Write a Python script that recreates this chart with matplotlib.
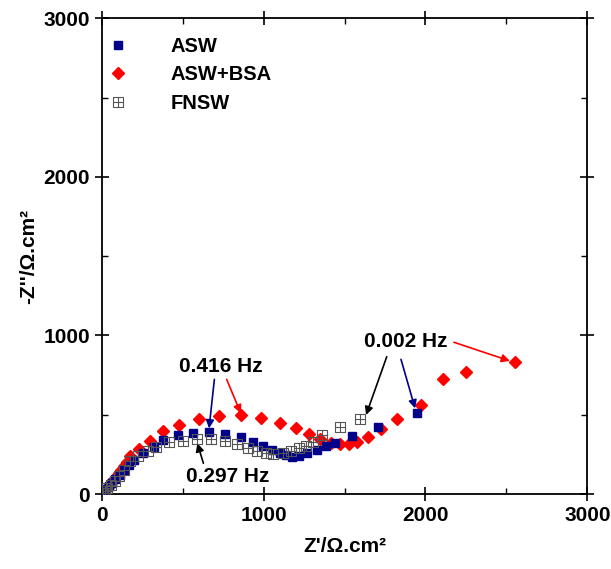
import matplotlib.pyplot as plt
import numpy as np
from matplotlib.path import Path
from matplotlib.ticker import MultipleLocator

plt.rcParams['font.family'] = ['Liberation Sans', 'DejaVu Sans']
plt.rcParams['font.weight'] = 'bold'

# ASW (blue squares)
asw_x = [6, 15, 28, 44, 62, 84, 110, 140, 170, 200, 257, 325, 380, 469, 562, 665,
         762, 859, 933, 998, 1050, 1102, 1139, 1178, 1217, 1266, 1328, 1386, 1441,
         1548, 1709, 1946]
asw_y = [6, 16, 30, 48, 68, 92, 120, 152, 185, 214, 256, 298, 341, 372, 387, 389,
         378, 358, 330, 303, 277, 257, 244, 235, 240, 260, 277, 305, 320,
         366, 424, 513]

# ASW+BSA (red diamonds)
bsa_x = [5, 12, 20, 30, 42, 55, 70, 86, 104, 122, 140, 158, 175, 230, 298, 379,
         479, 599, 727, 859, 986, 1100, 1200, 1283, 1349, 1415, 1472, 1525, 1579,
         1647, 1727, 1822, 1973, 2107, 2251, 2551]
bsa_y = [5, 14, 25, 38, 53, 70, 88, 108, 130, 153, 178, 205, 241, 286, 336, 395,
         433, 475, 494, 496, 479, 450, 416, 378, 347, 320, 313, 314, 330,
         361, 408, 471, 559, 723, 771, 830]

# FNSW (open squares with cross)
fnsw_x = [8, 20, 35, 55, 80, 108, 140, 175, 222, 284, 335, 416, 502, 590, 677, 762,
          836, 904, 961, 1013, 1056, 1122, 1171, 1217, 1262, 1307, 1363, 1470, 1596]
fnsw_y = [8, 21, 38, 58, 85, 115, 150, 210, 240, 273, 298, 326, 337, 345, 345, 332,
          315, 290, 273, 259, 254, 260, 273, 290, 305, 330, 370, 420, 472]

# square with a cross inside
boxplus = Path(
    [(-1, -1), (1, -1), (1, 1), (-1, 1), (-1, -1), (-1, 0), (1, 0), (0, -1), (0, 1)],
    [Path.MOVETO, Path.LINETO, Path.LINETO, Path.LINETO, Path.CLOSEPOLY,
     Path.MOVETO, Path.LINETO, Path.MOVETO, Path.LINETO])

fig = plt.figure(figsize=(6.11, 5.69), dpi=100)
ax = fig.add_axes([0.1665, 0.1318, 0.7947, 0.836])

ax.plot(asw_x, asw_y, ls='none', marker='s', ms=6, color='#00008B', label='ASW', zorder=3)
ax.plot(bsa_x, bsa_y, ls='none', marker='D', ms=6.5, color='#FF0000', label='ASW+BSA', zorder=2)
ax.plot(fnsw_x, fnsw_y, ls='none', marker=boxplus, ms=7, mfc='none', mec='#555555',
        mew=0.8, label='FNSW', zorder=4)

ax.set_xlim(0, 3000)
ax.set_ylim(0, 3000)
ax.xaxis.set_major_locator(MultipleLocator(1000))
ax.xaxis.set_minor_locator(MultipleLocator(500))
ax.yaxis.set_major_locator(MultipleLocator(1000))
ax.yaxis.set_minor_locator(MultipleLocator(500))
ax.tick_params(which='major', direction='inout', length=10, width=1.2,
               top=True, right=True, labelsize=15)
ax.tick_params(which='minor', direction='in', length=4, width=1.0, top=True, right=True)
for s in ax.spines.values():
    s.set_linewidth(1.3)
for lab in ax.get_xticklabels() + ax.get_yticklabels():
    lab.set_fontweight('bold')

ax.set_xlabel("Z'/\u03a9.cm\u00b2", fontsize=15, fontweight='bold', labelpad=9)
ax.set_ylabel("-Z''/\u03a9.cm\u00b2", fontsize=15, fontweight='bold', labelpad=4)

leg = ax.legend(loc='upper left', bbox_to_anchor=(0.005, 0.974), frameon=False,
                fontsize=14.5, handlelength=0.8, borderaxespad=0, borderpad=0.3,
                handletextpad=2.2, labelspacing=0.48)
for t in leg.get_texts():
    t.set_fontweight('bold')

# frequency annotations
tkw = dict(fontsize=15, fontweight='bold', ha='center', va='center')
ax.text(737, 807, '0.416 Hz', **tkw)
ax.text(777, 110, '0.297 Hz', **tkw)
ax.text(1877, 960, '0.002 Hz', **tkw)

def arrow(x0, y0, x1, y1, c):
    ax.annotate('', xy=(x1, y1), xytext=(x0, y0),
                arrowprops=dict(arrowstyle='-|>', color=c, lw=1.2, mutation_scale=12,
                                shrinkA=0, shrinkB=0))

arrow(696, 723, 663, 414, '#00008B')
arrow(772, 723, 859, 509, '#FF0000')
arrow(628, 194, 591, 320, 'black')
arrow(1761, 866, 1633, 498, 'black')
arrow(1849, 849, 1936, 540, '#00008B')
arrow(2176, 957, 2522, 839, '#FF0000')

fig.savefig('out.png', dpi=100)
